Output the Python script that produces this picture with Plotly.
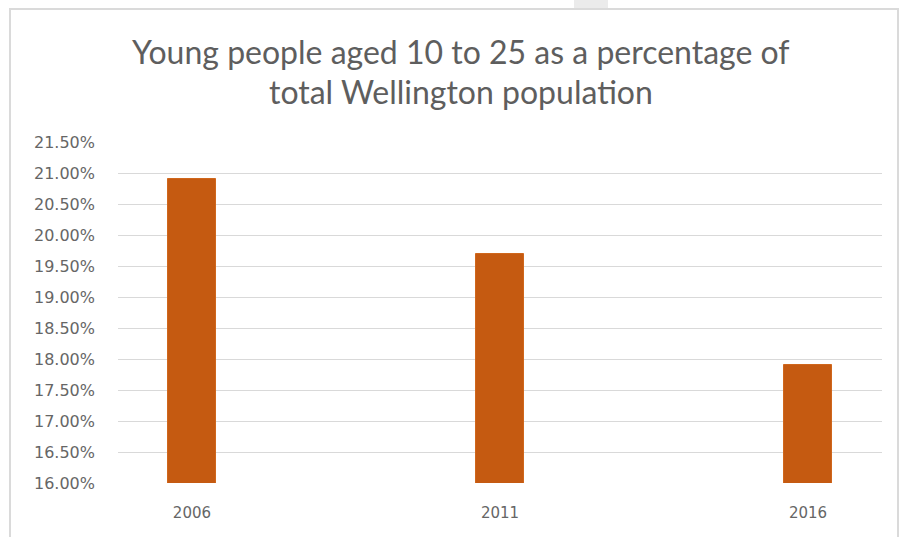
import plotly.graph_objects as go

# Census years and share of population aged 10-25
years = ["2006", "2011", "2016"]
share = [0.209, 0.197, 0.179]

title_lines = ["Young people aged 10 to 25 as a percentage of", "total Wellington population"]

W, H = 901, 537
bar_color = "#C55A11"
text_gray = "#5E5E5E"
tick_gray = "#666666"
grid_gray = "#D9D9D9"
tick_font = "'DejaVu Sans', sans-serif"

fig = go.Figure(
    go.Bar(
        x=years,
        y=share,
        width=0.156,
        marker=dict(color=bar_color, line=dict(color="#D0671C", width=1)),
        hoverinfo="x+y",
    )
)

fig.update_layout(
    width=W,
    height=H,
    margin=dict(l=118, r=19, t=142, b=54),
    paper_bgcolor="white",
    plot_bgcolor="white",
    showlegend=False,
    font=dict(family="Lato, 'Open Sans', sans-serif", color=text_gray),
    bargap=0,
)

fig.update_xaxes(
    type="category",
    range=[-0.24, 2.24],
    showgrid=False,
    showline=False,
    ticks="",
    tickfont=dict(size=15, color=tick_gray, family=tick_font),
    ticklabelstandoff=19,
)

fig.update_yaxes(
    range=[0.16, 0.215],
    dtick=0.005,
    tick0=0.16,
    tickformat=".2%",
    showgrid=True,
    gridcolor=grid_gray,
    gridwidth=1,
    zeroline=False,
    showline=False,
    ticks="",
    tickfont=dict(size=16, color=tick_gray, family=tick_font),
    ticklabelstandoff=22,
)

# Two-line chart title
for i, line in enumerate(title_lines):
    fig.add_annotation(
        text=line,
        xref="paper", yref="paper",
        x=(461 - 118) / (W - 118 - 19),
        y=1 + (142 - (51 + 41 * i)) / (H - 142 - 54),
        xanchor="center", yanchor="middle",
        showarrow=False,
        font=dict(size=32, color=text_gray, family="Lato, 'Open Sans', sans-serif"),
    )

# Chart frame
px = lambda v: (v - 118) / (W - 118 - 19)
py = lambda v: 1 - (v - 142) / (H - 142 - 54)
fig.add_shape(
    type="rect", xref="paper", yref="paper",
    x0=px(10), x1=px(898), y0=py(545), y1=py(9),
    line=dict(color="#DADADA", width=2), fillcolor="rgba(0,0,0,0)", layer="below",
)
fig.add_shape(
    type="rect", xref="paper", yref="paper",
    x0=px(574), x1=px(608), y0=py(8), y1=py(0),
    line=dict(width=0), fillcolor="#EBEBEB", layer="below",
)

fig.write_html("out.html")
